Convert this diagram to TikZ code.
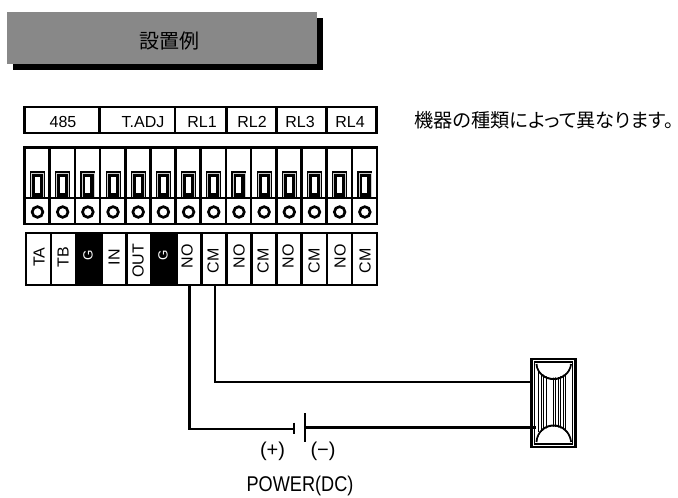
\documentclass[tikz,border=0pt]{standalone}
\usepackage{fontspec}
\setmainfont{Liberation Sans}
\newfontfamily\cjkfont[RawFeature=+palt]{Noto Sans CJK JP}
\definecolor{titlegray}{HTML}{888888}
\tikzset{
	toplabel/.style = {font = \fontsize{12}{12}\selectfont},
	termlabel/.style = {rotate = 90, inner sep = 0pt, font = \fontsize{12}{12}\selectfont},
	screw/.style = {circle, draw, line width = 2pt, minimum size = 8pt, inner sep = 0pt},
	frame/.style = {line width = 2pt},
	wire/.style = {line width = 1.7pt}
}
\begin{document}
\begin{tikzpicture}[x = 0.75pt, y = -0.75pt]
	\useasboundingbox (0, 0) rectangle (678, 497);

	%	title
	\fill[black] (13, 18) rectangle (323, 70);
	\fill[titlegray] (7, 12) rectangle (317, 64);
	\node (title) at (169, 41) {\cjkfont\fontsize{15}{15}\selectfont 設置例};

	%	top labels
	\def\ytop{107}
	\def\ybot{133}
	\draw[frame] (24.5, \ytop) rectangle (376.5, \ybot);
	\foreach \x in {99.5, 175, 226.5, 276.5, 326.5}
		\draw[frame] (\x, \ytop) -- (\x, \ybot);
	\node[toplabel] (lab485) at (63, 122) {485};
	\node[toplabel] (labadj) at (143, 122) {T.ADJ};
	\node[toplabel] (labrl1) at (202, 122) {RL1};
	\node[toplabel] (labrl2) at (252, 122) {RL2};
	\node[toplabel] (labrl3) at (300, 122) {RL3};
	\node[toplabel] (labrl4) at (350, 122) {RL4};

	\node[inner sep = 0pt] (note) at (544, 120) {\cjkfont\fontsize{14.4}{14.4}\selectfont 機器の種類によって異なります。};

	%	terminal block
	\draw[frame] (24.5, 147.5) rectangle (377, 224);
	\draw[frame] (24.5, 198) -- (377, 198);
	\foreach \i in {1, ..., 13}
		\draw[frame] (24.5 + 25.18*\i, 147.5) -- (24.5 + 25.18*\i, 224);
	\foreach \i in {0, ..., 13} {
		\def\xc{37.5 + 25.18*\i}
		\fill[black] (\xc - 7.5, 171) rectangle (\xc + 7.5, 198);
		\draw[gray!40, line width = 0.5pt] (\xc - 6, 197) -- (\xc - 6, 173) -- (\xc + 6, 173) -- (\xc + 6, 197);
		\fill[white] (\xc - 2.5, 177) rectangle (\xc + 2.5, 193);
		\node[screw] (screw\i) at (\xc, 212) {};
	}

	%	terminal labels
	\fill[black] (76.1, 233) rectangle (101.2, 285);
	\fill[black] (151.3, 233) rectangle (176.4, 285);
	\draw[frame] (26, 233) rectangle (377, 285);
	\foreach \i in {1, ..., 13}
		\draw[frame] (26 + 25.07*\i, 233) -- (26 + 25.07*\i, 285);
	\foreach \i/\t/\x/\y in {0/TA/39/257, 1/TB/63/257, 3/IN/114/257, 4/OUT/138/261, 6/NO/187/256, 7/CM/213/261, 8/NO/239/256, 9/CM/263/261, 10/NO/288/256, 11/CM/314/261, 12/NO/340/256, 13/CM/365/261}
		\node[termlabel] (term\i) at (\x, \y) {\t};
	\node[termlabel, text = white, font = \fontsize{10}{10}\selectfont] (term2) at (88, 255) {G};
	\node[termlabel, text = white, font = \fontsize{10}{10}\selectfont] (term5) at (163, 255) {G};

	%	device
	\coordinate (devtop) at (531, 382);
	\coordinate (devbot) at (536, 427.5);
	\foreach \x in {538.5, 541, ..., 547, 553, 555.5, ..., 567}
		\draw[line width = 0.7pt] (\x, 372) -- (\x, 432);
	\draw[line width = 1pt] (534.5, 362) rectangle (572.5, 444);
	\draw[frame] (531.2, 359) rectangle (575.5, 447);
	\draw[line width = 1.5pt] (536.5, 364) .. controls (539, 384) and (568, 384) .. (571, 364);
	\draw[line width = 1.5pt] (536.5, 442) .. controls (539, 420) and (568, 420) .. (571, 442);
	\fill[white] (537.5, 364.5) .. controls (540, 382) and (567, 382) .. (570, 364.5) -- cycle;
	\fill[white] (537.5, 441.5) .. controls (540, 422) and (567, 422) .. (570, 441.5) -- cycle;

	%	wires
	\coordinate (no) at (189.5, 285);
	\coordinate (cm) at (215, 285);
	\coordinate (plus) at (294, 428.7);
	\coordinate (minus) at (305.3, 427.5);
	\draw[wire] (no) |- (plus);
	\draw[wire] (cm) |- (devtop);
	\draw[wire] (minus) -- (devbot);

	%	battery
	\draw[wire] (294, 422.7) -- (294, 434);
	\draw[wire] (305.3, 413.3) -- (305.3, 441.7);
	\node (pos) at (272.5, 451) [font = \fontsize{15}{15}\selectfont] {(+)};
	\node (neg) at (323, 451) [font = \fontsize{15}{15}\selectfont] {(−)};
	\node (power) at (300, 486) [xscale = 0.85, font = \fontsize{16}{16}\selectfont] {POWER(DC)};
\end{tikzpicture}
\end{document}
